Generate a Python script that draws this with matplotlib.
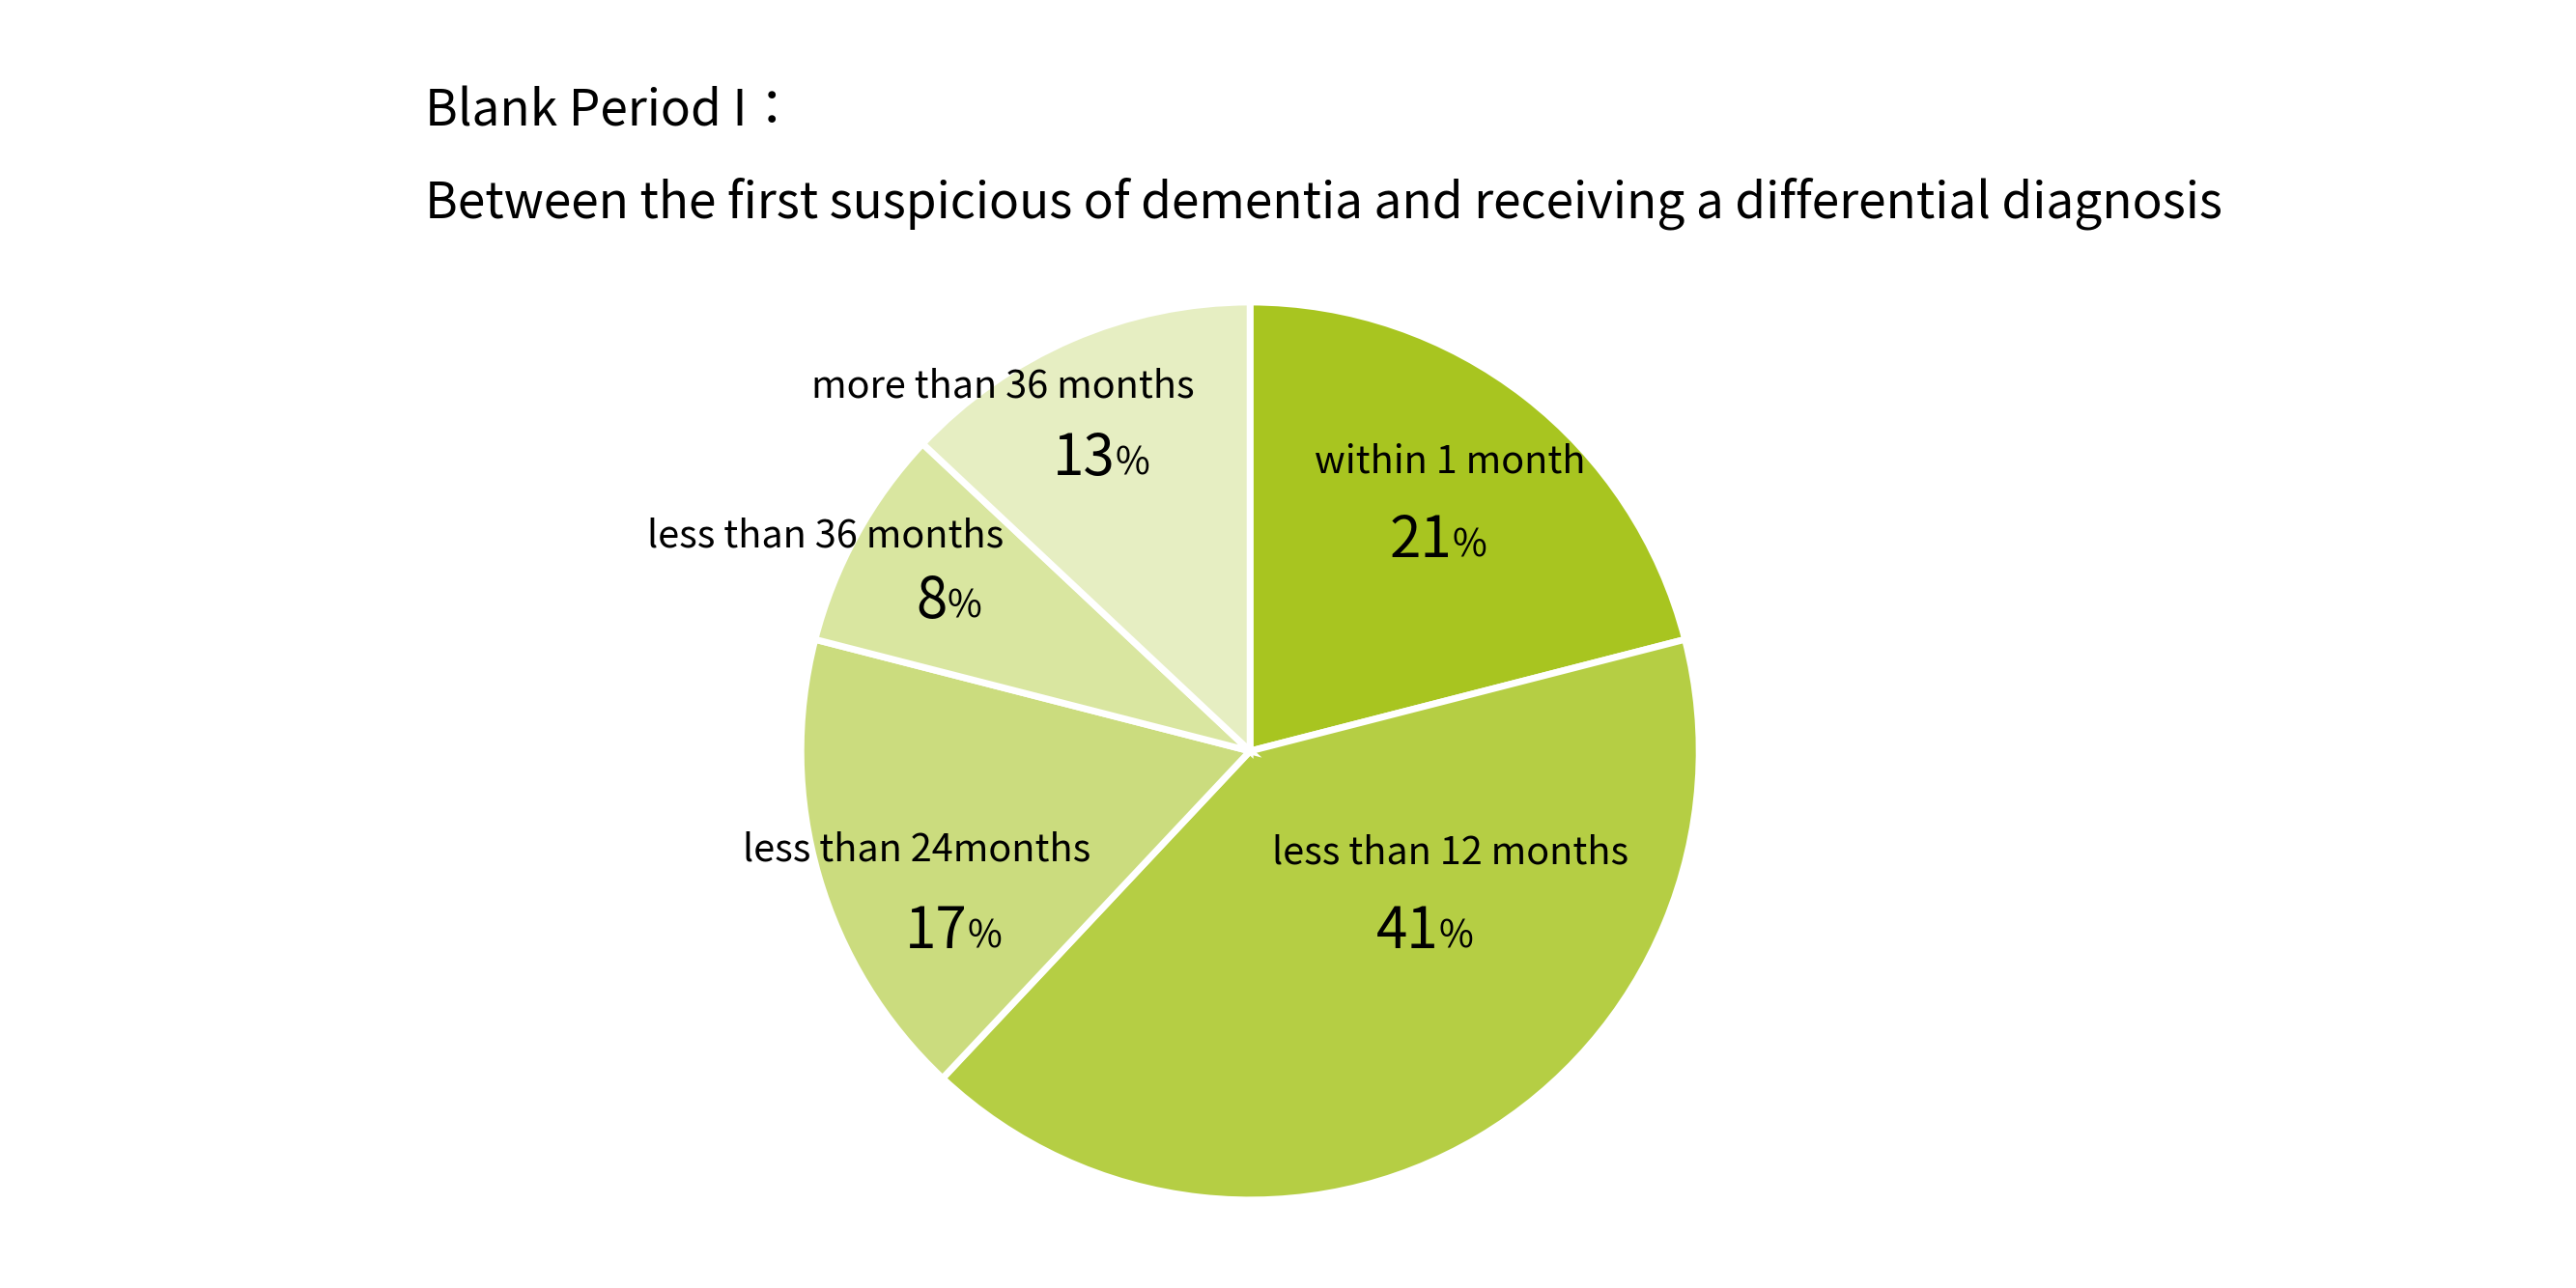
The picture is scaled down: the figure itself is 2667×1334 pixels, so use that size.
import matplotlib.pyplot as plt

plt.rcParams['font.family'] = ['Noto Sans CJK JP', 'DejaVu Sans']

labels = ["within 1 month", "less than 12 months", "less than 24months",
          "less than 36 months", "more than 36 months"]
values = [21, 41, 17, 8, 13]
colors = ["#A8C520", "#B5CE44", "#CBDC7E", "#D9E6A0", "#E6EEC2"]

# label anchors (in pie radius units)
name_pos = [(0.445, 0.643), (0.445, -0.228), (-0.743, -0.22), (-0.945, 0.478), (-0.551, 0.812)]
pct_pos = [(0.40, 0.467), (0.37, -0.404), (-0.68, -0.404), (-0.724, 0.331), (-0.35, 0.65)]

fig = plt.figure(figsize=(26.67, 13.34), dpi=100)
ax = fig.add_axes([0, 0, 1, 1])
ax.pie(values, colors=colors, startangle=90, counterclock=False, radius=1,
       wedgeprops=dict(edgecolor="white", linewidth=5))
ax.set_xlim(-2.783, 2.952)
ax.set_ylim(-1.196, 1.673)
ax.set_aspect("equal")
ax.axis("off")

for lab, v, (nx, ny), (px, py) in zip(labels, values, name_pos, pct_pos):
    ax.text(nx, ny, lab, ha="center", va="center", fontsize=28.5)
    ax.text(px + 0.05, py, str(v), ha="right", va="center", fontsize=42)
    ax.text(px + 0.05, py - 0.01, "%", ha="left", va="center", fontsize=28)

fig.text(0.165, 0.913, "Blank Period I：", ha="left", va="center", fontsize=37)
fig.text(0.165, 0.842, "Between the first suspicious of dementia and receiving a differential diagnosis",
         ha="left", va="center", fontsize=37)

fig.savefig("out.png")
